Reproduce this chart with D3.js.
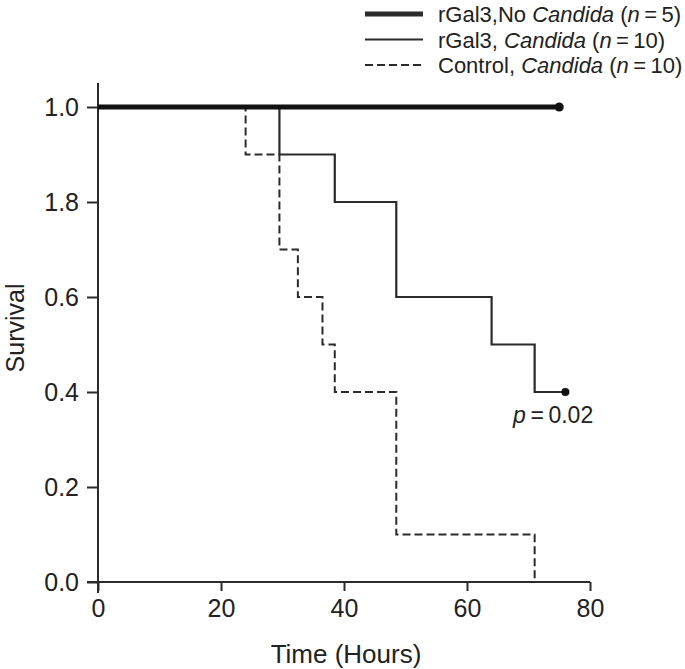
<!DOCTYPE html>
<html>
<head>
<meta charset="utf-8">
<script src="https://cdn.jsdelivr.net/npm/d3@7"></script>
<style>
  body { margin: 0; background: #fff; }
  text { font-family: "Liberation Sans", Arial, sans-serif; fill: #222; }
</style>
</head>
<body>
<div id="chart"></div>
<script>
// survival curves, [time, survival] step points
const noCandida = [[0, 1.0], [75, 1.0]];
const rGal3Candida = [[0, 1.0], [29.5, 0.9], [38.5, 0.8], [48.5, 0.6], [64, 0.5], [71, 0.4], [76, 0.4]];
const controlCandida = [[0, 1.0], [24, 0.9], [29.5, 0.7], [32.5, 0.6], [36.5, 0.5], [38.5, 0.4], [48.5, 0.1], [71, 0.0]];

const xTicks = [0, 20, 40, 60, 80];
const yTicks = [0, 0.2, 0.4, 0.6, 0.8, 1.0];
const yTickLabels = ["0.0", "0.2", "0.4", "0.6", "1.8", "1.0"];

const width = 685, height = 669;
const svg = d3.select("#chart").append("svg")
  .attr("width", width).attr("height", height);

const x = d3.scaleLinear().domain([0, 80]).range([98, 590]);
const y = d3.scaleLinear().domain([0, 1]).range([582, 107]);

const ink = "#2b2b2b";

// axes
const xAxis = svg.append("g").attr("transform", `translate(0,${y(0)})`)
  .call(d3.axisBottom(x).tickValues(xTicks).tickSize(9).tickPadding(8).tickSizeOuter(0));
const yAxis = svg.append("g").attr("transform", `translate(${x(0)},0)`)
  .call(d3.axisLeft(y).tickValues(yTicks).tickSize(11).tickPadding(8).tickSizeOuter(0)
    .tickFormat((d, i) => yTickLabels[i]));

[xAxis, yAxis].forEach(g => {
  g.select(".domain").remove();
  g.selectAll("line").attr("stroke", ink).attr("stroke-width", 2);
  g.selectAll("text").attr("font-size", 25).attr("fill", ink)
    .style("font-family", "Liberation Sans, Arial, sans-serif");
});

// axis lines crossing at origin
svg.append("line").attr("x1", x(0) - 11).attr("x2", x(80))
  .attr("y1", y(0)).attr("y2", y(0)).attr("stroke", ink).attr("stroke-width", 2);
svg.append("line").attr("x1", x(0)).attr("x2", x(0))
  .attr("y1", 83).attr("y2", y(0) + 11).attr("stroke", ink).attr("stroke-width", 2);

const line = d3.line().x(d => x(d[0])).y(d => y(d[1])).curve(d3.curveStepAfter);

svg.append("path").datum(controlCandida).attr("d", line)
  .attr("fill", "none").attr("stroke", ink).attr("stroke-width", 2)
  .attr("stroke-dasharray", "8,4");
svg.append("path").datum(rGal3Candida).attr("d", line)
  .attr("fill", "none").attr("stroke", ink).attr("stroke-width", 2.2);
svg.append("path").datum(noCandida).attr("d", line)
  .attr("fill", "none").attr("stroke", "#111").attr("stroke-width", 5);

// censor dots at end
svg.append("circle").attr("cx", x(75)).attr("cy", y(1.0)).attr("r", 4.5).attr("fill", "#111");
svg.append("circle").attr("cx", x(76)).attr("cy", y(0.4)).attr("r", 4).attr("fill", "#111");

// labels
svg.append("text").attr("x", (x(0) + x(80)) / 2 + 2).attr("y", 663)
  .attr("text-anchor", "middle").attr("font-size", 26).text("Time (Hours)");
svg.append("text").attr("transform", `translate(24,328) rotate(-90)`)
  .attr("text-anchor", "middle").attr("font-size", 25).text("Survival");

const pt = svg.append("text").attr("x", 513).attr("y", 423).attr("font-size", 23);
pt.append("tspan").attr("font-style", "italic").text("p");
pt.append("tspan").text("\u2009=\u20090.02");

// legend
const legend = [
  { name: "rGal3,No ", n: "5", w: 5, dash: null },
  { name: "rGal3, ", n: "10", w: 2, dash: null },
  { name: "Control, ", n: "10", w: 2, dash: "8,4" }
];
const lg = svg.selectAll(".leg").data(legend).enter().append("g")
  .attr("transform", (d, i) => `translate(0,${12 + i * 25.5})`);
lg.append("line").attr("x1", 365).attr("x2", 423).attr("y1", 2).attr("y2", 2)
  .attr("stroke", ink).attr("stroke-width", d => d.w).attr("stroke-dasharray", d => d.dash);
const lt = lg.append("text").attr("x", 438).attr("y", 10).attr("font-size", 22);
lt.append("tspan").text(d => d.name);
lt.append("tspan").attr("font-style", "italic").text("Candida");
lt.append("tspan").text(" (");
lt.append("tspan").attr("font-style", "italic").text("n");
lt.append("tspan").text(d => "\u2009=\u2009" + d.n + ")");
</script>
</body>
</html>
